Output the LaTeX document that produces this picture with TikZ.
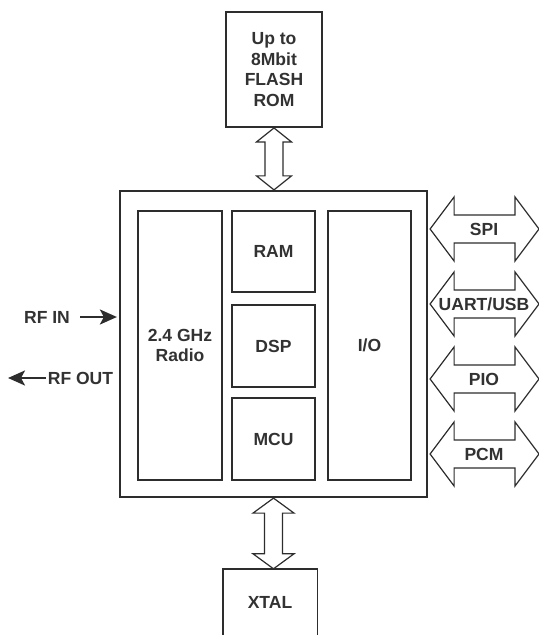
\documentclass[tikz,border=0pt]{standalone}
\usepackage{fontspec}
\setmainfont{Liberation Sans}
\usetikzlibrary{calc,arrows.meta}
\definecolor{lineGray}{RGB}{45,45,45}
\definecolor{textGray}{RGB}{50,50,50}

% vertical bus arrow between two points: #3 = half head width, #4 = head length
\newcommand{\vbus}[4]{%
  \draw[bus] let \p1=(#1), \p2=(#2) in
    (\x1,\y1) -- (\x1+#3bp,\y1-#4bp) -- (\x1+9bp,\y1-#4bp) -- (\x1+9bp,\y2+#4bp)
    -- (\x1+#3bp,\y2+#4bp) -- (\x1,\y2) -- (\x1-#3bp,\y2+#4bp) -- (\x1-9bp,\y2+#4bp)
    -- (\x1-9bp,\y1-#4bp) -- (\x1-#3bp,\y1-#4bp) -- cycle;}
% horizontal bus arrow from left point #1 to right point #2
\newcommand{\hbus}[2]{%
  \draw[bus] let \p1=(#1), \p2=(#2) in
    (\x1,\y2) -- (\x1+24bp,\y2+32bp) -- (\x1+24bp,\y2+14bp) -- (\x2-24bp,\y2+14bp)
    -- (\x2-24bp,\y2+32bp) -- (\x2,\y2) -- (\x2-24bp,\y2-32bp) -- (\x2-24bp,\y2-14bp)
    -- (\x1+24bp,\y2-14bp) -- (\x1+24bp,\y2-32bp) -- cycle;}

\begin{document}
\begin{tikzpicture}[x=1bp, y=-1bp,
    every node/.style={text=textGray, font=\fontsize{17.6}{20.5}\selectfont\bfseries,
      align=center, inner sep=0pt},
    box/.style={draw=lineGray, line width=1.9bp},
    bus/.style={draw=lineGray, line width=1.2bp, fill=white},
    rf/.style={draw=lineGray, line width=2.4bp, -{Stealth[length=17bp, width=15bp, inset=4bp]}}]
  \useasboundingbox (0,0) rectangle (539,635);

  % the chip and its blocks
  \node[box, line width=2.2bp, minimum width=307bp, minimum height=306bp] (chip) at (273.5,344) {};
  \node[box, minimum width=84bp, minimum height=269bp] (radio) at (180,345.5) {2.4 GHz\\Radio};
  \node[box, minimum width=83bp, minimum height=81bp] (ram) at (273.5,251.5) {RAM};
  \node[box, minimum width=83bp, minimum height=82bp] (dsp) at (273.5,346) {DSP};
  \node[box, minimum width=83bp, minimum height=82bp] (mcu) at (273.5,439) {MCU};
  \node[box, minimum width=83bp, minimum height=269bp] (io) at (369.5,345.5) {I/O};

  % flash on top, crystal below (open at the bottom)
  \node[box, minimum width=96bp, minimum height=115bp] (flash) at (274,69.5) {Up to\\8Mbit\\FLASH\\ROM};
  \node[minimum width=94bp, minimum height=66bp] (xtal) at (270,602) {XTAL};
  \draw[box, line width=1.4bp] (xtal.south west) -- (xtal.north west) -- (xtal.north east) -- (xtal.south east);

  \vbus{flash.south}{chip.north}{17.5}{14}
  \vbus{chip.south}{xtal.north}{20.5}{15}

  % interfaces on the right
  \foreach \name/\lbl [count=\i from 0] in {spi/SPI, uart/{UART/USB}, pio/PIO, pcm/PCM} {
    \coordinate (\name end) at (539,229+75*\i);
    \hbus{$(chip.east)+(2,0)$}{\name end}
    \node (\name) at (484,229+75*\i) {\lbl};
  }

  % RF in and out
  \node (rfin) at (47,317) {RF IN};
  \draw[rf, shorten <=10bp, shorten >=2bp] (rfin.east) -- (chip.west |- rfin.east);
  \node (rfout) at (80.5,378) {RF OUT};
  \coordinate (rfend) at (8,378);
  \draw[rf, shorten <=2bp] (rfout.west) -- (rfend);
\end{tikzpicture}
\end{document}
